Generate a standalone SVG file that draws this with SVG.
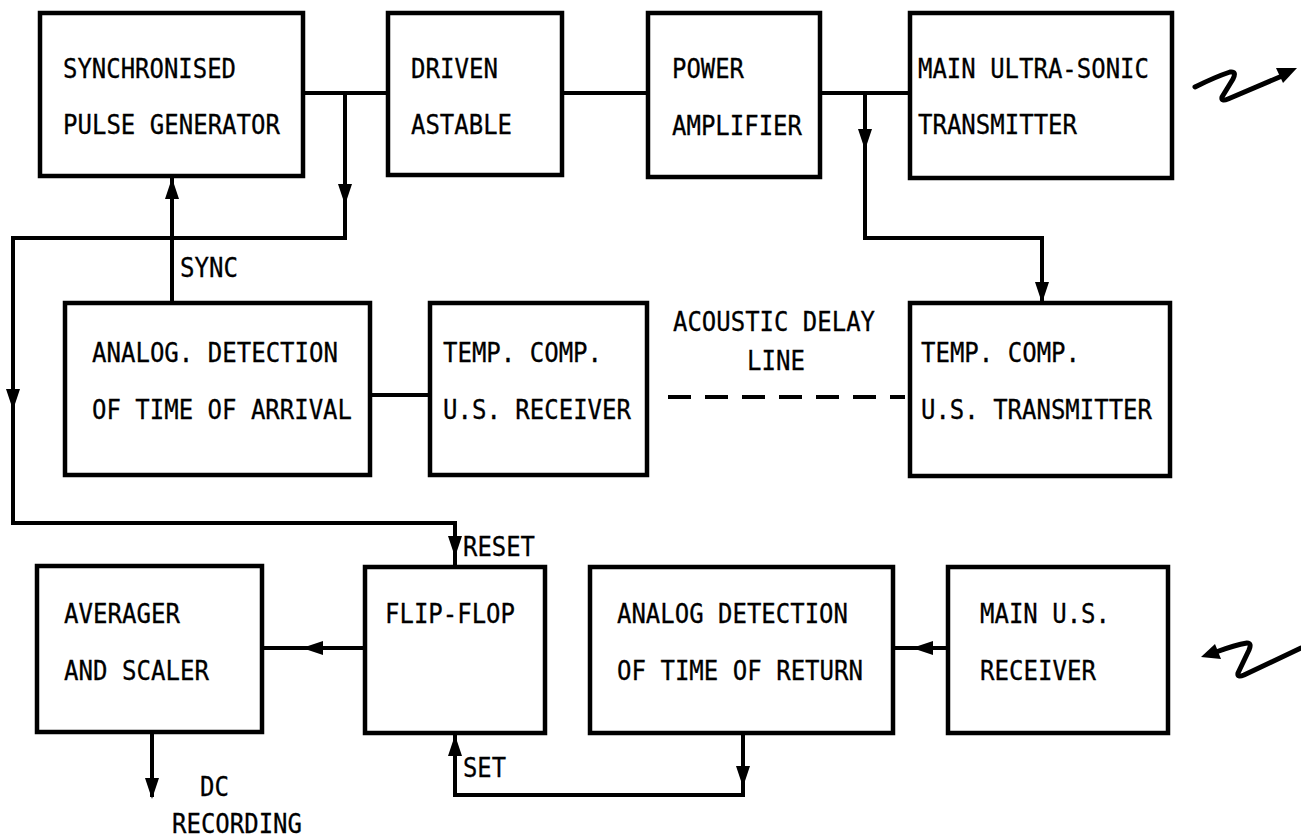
<svg xmlns="http://www.w3.org/2000/svg" xmlns:xlink="http://www.w3.org/1999/xlink" width="1301" height="840" viewBox="0 0 1301 840">
<style>
.box{fill:none;stroke:#000;stroke-width:4.5}
.ln{fill:none;stroke:#000;stroke-width:4;stroke-linejoin:miter}
.dash{fill:none;stroke:#000;stroke-width:4;stroke-dasharray:23 14}
.zz{fill:none;stroke:#000;stroke-width:5;stroke-linejoin:round;stroke-linecap:round}
.t{font-family:"DejaVu Sans Mono","Liberation Mono",monospace;font-size:27px;fill:#000;stroke:#000;stroke-width:0.3}
.ah{fill:#000}
</style>
<defs>
<path id="ah" d="M0,0 L-7,-21 L7,-21 Z"/>
</defs>
<rect width="1301" height="840" fill="#fff"/>

<g id="connectors">
<path class="ln" d="M303,93 H388"/>
<path class="ln" d="M345,93 V238 H13 V523 H455 V567"/>
<path class="ln" d="M172,303 V176"/>
<path class="ln" d="M562,93 H648"/>
<path class="ln" d="M820,93 H910"/>
<path class="ln" d="M865,93 V238 H1042 V303"/>
<path class="ln" d="M370,395 H430"/>
<path class="dash" d="M668,397 H905"/>
<path class="ln" d="M262,648 H365"/>
<path class="ln" d="M893,648 H948"/>
<path class="ln" d="M152,732 V797"/>
<path class="ln" d="M743,733 V795 H455 V733"/>
<use class="ah" xlink:href="#ah" transform="translate(345,205)"/>
<use class="ah" xlink:href="#ah" transform="translate(172,178) rotate(180)"/>
<use class="ah" xlink:href="#ah" transform="translate(13,410)"/>
<use class="ah" xlink:href="#ah" transform="translate(455,557)"/>
<use class="ah" xlink:href="#ah" transform="translate(865,150)"/>
<use class="ah" xlink:href="#ah" transform="translate(1042,303)"/>
<use class="ah" xlink:href="#ah" transform="translate(302,648) rotate(90)"/>
<use class="ah" xlink:href="#ah" transform="translate(912,648) rotate(90)"/>
<use class="ah" xlink:href="#ah" transform="translate(152,799)"/>
<use class="ah" xlink:href="#ah" transform="translate(455,735) rotate(180)"/>
<use class="ah" xlink:href="#ah" transform="translate(743,787)"/>
<path class="zz" d="M1195,87 Q1215,77 1230,72 Q1237,71 1233,79 L1222,97 Q1221,102 1228,99 L1282,76"/>
<polygon class="ah" points="1297,68 1283,83 1276,68"/>
<path class="zz" d="M1216,652 Q1235,645 1247,643 Q1252,643 1249,650 L1238,673 Q1237,678 1244,675 L1301,648"/>
<polygon class="ah" points="1201,657 1215,644 1221,659"/>
</g>

<g id="sync-pulse-generator">
<rect class="box" x="40" y="13" width="263" height="163"/>
<text class="t" x="63" y="78" textLength="173" lengthAdjust="spacingAndGlyphs">SYNCHRONISED</text>
<text class="t" x="63" y="134" textLength="217" lengthAdjust="spacingAndGlyphs">PULSE GENERATOR</text>
</g>
<g id="driven-astable">
<rect class="box" x="388" y="13" width="174" height="162"/>
<text class="t" x="411" y="78" textLength="87" lengthAdjust="spacingAndGlyphs">DRIVEN</text>
<text class="t" x="411" y="134" textLength="101" lengthAdjust="spacingAndGlyphs">ASTABLE</text>
</g>
<g id="power-amplifier">
<rect class="box" x="648" y="13" width="172" height="164"/>
<text class="t" x="672" y="78" textLength="72" lengthAdjust="spacingAndGlyphs">POWER</text>
<text class="t" x="672" y="135" textLength="130" lengthAdjust="spacingAndGlyphs">AMPLIFIER</text>
</g>
<g id="main-transmitter">
<rect class="box" x="910" y="13" width="262" height="165"/>
<text class="t" x="918" y="78" textLength="231" lengthAdjust="spacingAndGlyphs">MAIN ULTRA-SONIC</text>
<text class="t" x="918" y="134" textLength="159" lengthAdjust="spacingAndGlyphs">TRANSMITTER</text>
</g>
<g id="sync-label">
<text class="t" x="180" y="277" textLength="58" lengthAdjust="spacingAndGlyphs">SYNC</text>
</g>
<g id="analog-arrival">
<rect class="box" x="65" y="303" width="305" height="172"/>
<text class="t" x="92" y="362" textLength="246" lengthAdjust="spacingAndGlyphs">ANALOG. DETECTION</text>
<text class="t" x="92" y="419" textLength="260" lengthAdjust="spacingAndGlyphs">OF TIME OF ARRIVAL</text>
</g>
<g id="us-receiver">
<rect class="box" x="430" y="303" width="217" height="172"/>
<text class="t" x="443" y="362" textLength="159" lengthAdjust="spacingAndGlyphs">TEMP. COMP.</text>
<text class="t" x="443" y="419" textLength="188" lengthAdjust="spacingAndGlyphs">U.S. RECEIVER</text>
</g>
<g id="delay-line-label">
<text class="t" x="673" y="331" textLength="202" lengthAdjust="spacingAndGlyphs">ACOUSTIC DELAY</text>
<text class="t" x="747" y="370" textLength="58" lengthAdjust="spacingAndGlyphs">LINE</text>
</g>
<g id="us-transmitter">
<rect class="box" x="910" y="303" width="260" height="173"/>
<text class="t" x="921" y="362" textLength="159" lengthAdjust="spacingAndGlyphs">TEMP. COMP.</text>
<text class="t" x="921" y="419" textLength="231" lengthAdjust="spacingAndGlyphs">U.S. TRANSMITTER</text>
</g>
<g id="averager">
<rect class="box" x="37" y="566" width="225" height="166"/>
<text class="t" x="64" y="623" textLength="116" lengthAdjust="spacingAndGlyphs">AVERAGER</text>
<text class="t" x="64" y="680" textLength="145" lengthAdjust="spacingAndGlyphs">AND SCALER</text>
</g>
<g id="flip-flop">
<rect class="box" x="365" y="567" width="180" height="166"/>
<text class="t" x="385" y="623" textLength="130" lengthAdjust="spacingAndGlyphs">FLIP-FLOP</text>
</g>
<g id="analog-return">
<rect class="box" x="590" y="567" width="303" height="166"/>
<text class="t" x="617" y="623" textLength="231" lengthAdjust="spacingAndGlyphs">ANALOG DETECTION</text>
<text class="t" x="617" y="680" textLength="246" lengthAdjust="spacingAndGlyphs">OF TIME OF RETURN</text>
</g>
<g id="main-receiver">
<rect class="box" x="948" y="567" width="220" height="166"/>
<text class="t" x="980" y="623" textLength="130" lengthAdjust="spacingAndGlyphs">MAIN U.S.</text>
<text class="t" x="980" y="680" textLength="116" lengthAdjust="spacingAndGlyphs">RECEIVER</text>
</g>
<g id="labels">
<text class="t" x="463" y="556" textLength="72" lengthAdjust="spacingAndGlyphs">RESET</text>
<text class="t" x="463" y="777" textLength="43" lengthAdjust="spacingAndGlyphs">SET</text>
<text class="t" x="200" y="796" textLength="29" lengthAdjust="spacingAndGlyphs">DC</text>
<text class="t" x="172" y="833" textLength="130" lengthAdjust="spacingAndGlyphs">RECORDING</text>
</g>
</svg>
